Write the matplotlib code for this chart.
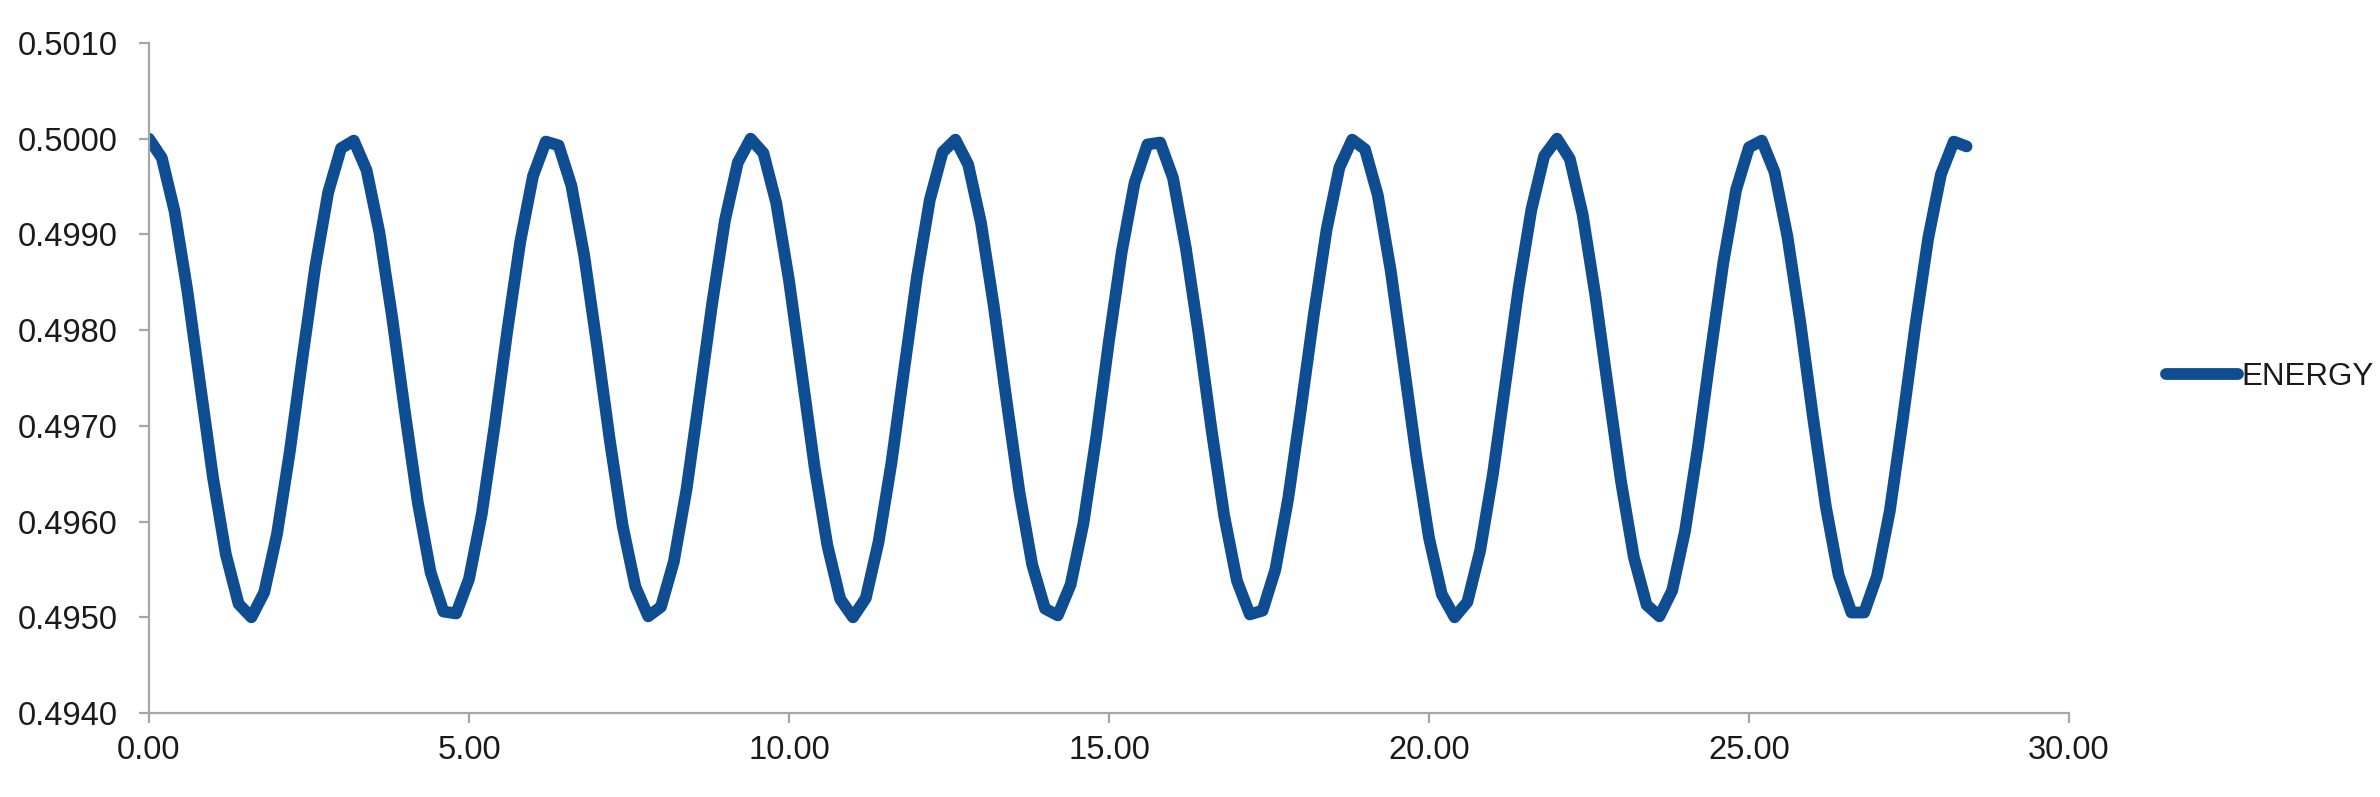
import matplotlib
matplotlib.use("Agg")
import matplotlib.pyplot as plt
from matplotlib.ticker import FormatStrFormatter

plt.rcParams['font.family'] = ['Liberation Sans', 'DejaVu Sans']

# energy, one sample every 0.2 time units
dt = 0.2
energy = [
    0.50000, 0.49980, 0.49924, 0.49841, 0.49743, 0.49646, 0.49566, 0.49514,
    0.49500, 0.49526, 0.49587, 0.49673, 0.49772, 0.49867, 0.49944, 0.49990,
    0.49998, 0.49967, 0.49902, 0.49813, 0.49714, 0.49620, 0.49547, 0.49506,
    0.49504, 0.49540, 0.49608, 0.49700, 0.49800, 0.49892, 0.49961, 0.49997,
    0.49993, 0.49951, 0.49878, 0.49784, 0.49685, 0.49596, 0.49532, 0.49501,
    0.49511, 0.49558, 0.49634, 0.49730, 0.49828, 0.49915, 0.49975, 0.50000,
    0.49985, 0.49933, 0.49852, 0.49755, 0.49657, 0.49575, 0.49519, 0.49500,
    0.49520, 0.49579, 0.49661, 0.49759, 0.49856, 0.49936, 0.49986, 0.49999,
    0.49973, 0.49912, 0.49825, 0.49726, 0.49631, 0.49555, 0.49509, 0.49502,
    0.49534, 0.49598, 0.49688, 0.49789, 0.49882, 0.49954, 0.49994, 0.49996,
    0.49959, 0.49886, 0.49796, 0.49697, 0.49606, 0.49538, 0.49503, 0.49507,
    0.49550, 0.49624, 0.49718, 0.49816, 0.49905, 0.49970, 0.49999, 0.49989,
    0.49941, 0.49863, 0.49767, 0.49669, 0.49583, 0.49524, 0.49500, 0.49516,
    0.49570, 0.49650, 0.49747, 0.49844, 0.49926, 0.49982, 0.50000, 0.49979,
    0.49921, 0.49836, 0.49738, 0.49642, 0.49563, 0.49513, 0.49501, 0.49528,
    0.49590, 0.49677, 0.49776, 0.49871, 0.49947, 0.49991, 0.49998, 0.49965,
    0.49898, 0.49809, 0.49709, 0.49616, 0.49544, 0.49505, 0.49505, 0.49543,
    0.49611, 0.49705, 0.49805, 0.49896, 0.49963, 0.49997, 0.49992,
]
time = [i * dt for i in range(len(energy))]

x_ticks = [0, 5, 10, 15, 20, 25, 30]
y_ticks = [0.4940, 0.4950, 0.4960, 0.4970, 0.4980, 0.4990, 0.5000, 0.5010]

line_color = "#0E4D92"
axis_color = "#A6A6A6"

fig = plt.figure(figsize=(23.8, 7.97), dpi=100)
ax = fig.add_axes([149 / 2380, 1 - 713 / 797, (2069 - 149) / 2380, (713 - 43) / 797])

ax.plot(time, energy, color=line_color, lw=8.5, solid_joinstyle="round",
        solid_capstyle="round", label="ENERGY")

ax.set_xlim(0, 30)
ax.set_ylim(0.4940, 0.5010)
ax.set_xticks(x_ticks)
ax.set_yticks(y_ticks)
ax.xaxis.set_major_formatter(FormatStrFormatter("%.2f"))
ax.yaxis.set_major_formatter(FormatStrFormatter("%.4f"))

for side in ["top", "right"]:
    ax.spines[side].set_visible(False)
for side in ["left", "bottom"]:
    ax.spines[side].set_color(axis_color)
    ax.spines[side].set_linewidth(1.6)

ax.tick_params(axis="both", colors=axis_color, width=1.6, labelcolor="#1a1a1a",
               labelsize=23.5)
ax.tick_params(axis="y", length=7.5, pad=15)
ax.tick_params(axis="x", length=7.5, pad=8)

fig.legend(loc="center left", bbox_to_anchor=(2166 / 2380, 1 - 377 / 797),
           frameon=False, fontsize=22.5, handlelength=2.3, handletextpad=0.1,
           borderpad=0, borderaxespad=0, labelcolor="#1a1a1a")

fig.savefig("out.png", dpi=100, facecolor="white")
